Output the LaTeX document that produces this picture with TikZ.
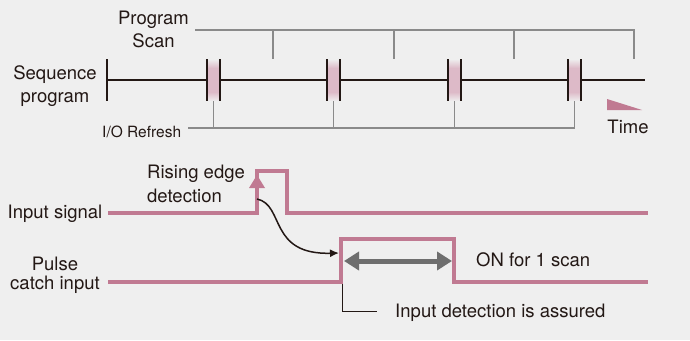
\documentclass[tikz,border=0pt]{standalone}
\usepackage{fontspec}
\setmainfont{TeX Gyre Heros}
\usetikzlibrary{arrows.meta}
\definecolor{bg}{HTML}{EFEFEF}
\definecolor{ink}{HTML}{231815}
\definecolor{sig}{HTML}{C07A92}
\definecolor{rfill}{HTML}{DDBAC8}
\definecolor{brk}{HTML}{8A8A8A}
\definecolor{dbl}{HTML}{6E6E6E}
\tikzset{
  lbl/.style={inner sep=0pt, text=ink, font=\fontsize{18.5}{22}\selectfont},
  smalllbl/.style={inner sep=0pt, text=ink, font=\fontsize{15.5}{18}\selectfont},
  seqline/.style={draw=ink, line width=2pt},
  bracket/.style={draw=brk, line width=1.4pt},
  signal/.style={draw=sig, line width=4pt, line join=miter},
  curvearrow/.style={draw=ink, line width=1.5pt, -{Latex[length=9pt,width=8pt]}},
  dblarrow/.style={draw=dbl, line width=5pt, {Triangle[length=15pt,width=18pt]}-{Triangle[length=15pt,width=18pt]}},
  thinline/.style={draw=ink, line width=1pt}
}
\newcommand{\refreshblock}[1]{%
  \shade[top color=bg, bottom color=rfill] (#1,59) rectangle ++(13,9);
  \fill[rfill] (#1,68) rectangle ++(13,24);
  \shade[top color=rfill, bottom color=bg] (#1,92) rectangle ++(13,9);
  \draw[seqline] (#1,59) -- ++(0,42);
  \draw[seqline] (#1+13,59) -- ++(0,42);
}
\begin{document}
\begin{tikzpicture}[x=1pt,y=-1pt]
\fill[bg] (0,0) rectangle (690,340);
\useasboundingbox (0,0) rectangle (690,340);

% labels
\node[lbl, anchor=base] (ps1) at (153.5,24) {Program};
\node[lbl, anchor=base] (ps2) at (153.5,47) {Scan};
\node[lbl, anchor=base] (sp1) at (55,79) {Sequence};
\node[lbl, anchor=base] (sp2) at (55,102) {program};
\node[smalllbl, anchor=base west] (io) at (102,137) {I/O Refresh};
\node[lbl, anchor=base] (tm) at (628,133) {Time};
\node[lbl, anchor=base] (ins) at (55,218) {Input signal};
\node[lbl, anchor=base] (pc1) at (55,270) {Pulse};
\node[lbl, anchor=base] (pc2) at (55,289.5) {catch input};
\node[lbl, anchor=base west] (re1) at (147,178) {Rising edge};
\node[lbl, anchor=base west] (re2) at (147,202) {detection};
\node[lbl, anchor=base west] (on) at (476,266) {ON for 1 scan};
\node[lbl, anchor=base west] (ida) at (395,317) {Input detection is assured};

% program scan bracket
\draw[bracket] (195,30) -- (634,30) -- (634,59);
\foreach \x in {273,394,514} \draw[bracket] (\x,30) -- (\x,59);

% refresh blocks
\refreshblock{207}
\refreshblock{327}
\refreshblock{448}
\refreshblock{568}

% sequence program line
\draw[seqline] (107,59) -- (107,101);
\draw[seqline] (107,80) -- (207,80);
\draw[seqline] (220,80) -- (327,80);
\draw[seqline] (340,80) -- (448,80);
\draw[seqline] (461,80) -- (568,80);
\draw[seqline] (581,80) -- (645,80);

% I/O refresh bracket
\draw[bracket] (188,128) -- (574.5,128) -- (574.5,101);
\foreach \x in {213.5,333.5,454.5} \draw[bracket] (\x,128) -- (\x,101);

% time triangle
\fill[sig] (607,99) -- (607,110) -- (642,110) -- cycle;

% input signal
\draw[signal] (108,213) -- (257,213) -- (257,171) -- (287,171) -- (287,213) -- (648,213);
\fill[sig] (257,175) -- (265,188) -- (249,188) -- cycle;

% pulse catch input
\draw[signal] (108,282) -- (341,282) -- (341,239) -- (454,239) -- (454,282) -- (648,282);

% curved arrow
\coordinate (cs) at (257,199);
\coordinate (ce) at (339,253);
\draw[curvearrow] (cs) .. controls (285,205) and (268,255) .. (ce);

% one-scan double arrow
\coordinate (dl) at (344,261);
\coordinate (dr) at (452,261);
\draw[dblarrow] (dl) -- (dr);

% input detection leader
\coordinate (lt) at (342,284);
\coordinate (le) at (377,311);
\draw[thinline] (lt) |- (le);
\end{tikzpicture}
\end{document}
